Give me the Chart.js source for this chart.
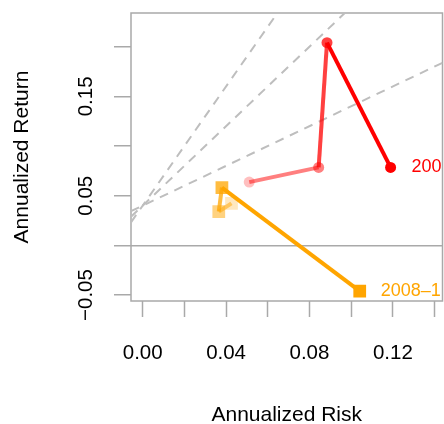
<!DOCTYPE html>
<html>
<head>
<meta charset="utf-8">
<script src="https://cdn.jsdelivr.net/npm/chart.js@4.4.1/dist/chart.umd.min.js"></script>
<style>
html, body { margin: 0; padding: 0; background: #fff; }
</style>
</head>
<body>
<canvas id="chart1" width="444" height="424"></canvas>
<script>
// trail values (oldest point first)
var redRisk = [0.0511, 0.0844, 0.0884, 0.1189];
var redReturn = [0.0637, 0.0785, 0.2040, 0.0785];
var orangeRisk = [0.0426, 0.0365, 0.0380, 0.1041];
var orangeReturn = [0.0423, 0.0340, 0.0582, -0.0460];
var trailAlpha = [0.25, 0.5, 0.75, 1];
var seriesLabels = ['200', '2008\u20131'];

// sharpe ratio reference lines
var sharpeSlopes = [1, 2, 3];
var sharpeIntercept = 0.04;

var xTickValues = [0, 0.04, 0.08, 0.12];
var xTickLabels = ['0.00', '0.04', '0.08', '0.12'];
var yTickValues = [-0.05, 0.05, 0.15];
var yTickLabels = ['\u22120.05', '0.05', '0.15'];

var xMin = -0.0056, xMax = 0.1438;
var yMin = -0.056, yMax = 0.2339;
var axisGray = '#A9A9A9';
var fontFamily = '"Liberation Sans", Arial, sans-serif';

function trail(risk, ret, rgb, style, radius) {
    return {
        data: risk.map(function (x, i) { return { x: x, y: ret[i] }; }),
        showLine: true,
        borderWidth: 4,
        borderColor: 'rgb(' + rgb + ')',
        segment: {
            borderColor: function (c) { return 'rgba(' + rgb + ',' + trailAlpha[c.p1DataIndex] + ')'; }
        },
        pointStyle: style,
        pointRadius: radius,
        pointHoverRadius: radius,
        pointBorderWidth: 0,
        pointBackgroundColor: trailAlpha.map(function (a) { return 'rgba(' + rgb + ',' + a + ')'; })
    };
}

var datasets = [
    trail(redRisk, redReturn, '255,0,0', 'circle', 5.5),
    trail(orangeRisk, orangeReturn, '255,165,0', 'rect', 9)
];
sharpeSlopes.forEach(function (s) {
    var x2 = 0.3;
    datasets.push({
        data: [{ x: xMin, y: sharpeIntercept + s * xMin }, { x: x2, y: sharpeIntercept + s * x2 }],
        showLine: true,
        borderColor: '#BEBEBE',
        borderWidth: 2,
        borderDash: [9, 7],
        pointRadius: 0,
        clip: 0
    });
});

var extras = {
    id: 'extras',
    beforeDatasetsDraw: function (chart) {
        var c = chart.ctx, a = chart.chartArea;
        c.save();
        c.strokeStyle = axisGray;
        c.lineWidth = 1.5;
        c.strokeRect(a.left, a.top, a.right - a.left, a.bottom - a.top);
        c.restore();
    },
    afterDatasetsDraw: function (chart) {
        var c = chart.ctx;
        c.save();
        c.font = '18px ' + fontFamily;
        c.textAlign = 'left';
        c.textBaseline = 'middle';
        ['#FF0000', '#FFA500'].forEach(function (col, i) {
            var pts = chart.getDatasetMeta(i).data;
            var p = pts[pts.length - 1];
            c.fillStyle = col;
            c.fillText(seriesLabels[i], p.x + 21, p.y);
        });
        // rotated y tick labels, R style
        var ys = chart.scales.y;
        c.font = '20.5px ' + fontFamily;
        c.fillStyle = '#000';
        c.textAlign = 'center';
        yTickValues.forEach(function (v, i) {
            c.save();
            c.translate(86, ys.getPixelForValue(v));
            c.rotate(-Math.PI / 2);
            c.fillText(yTickLabels[i], 0, 0);
            c.restore();
        });
        c.restore();
    }
};

var ctx1 = document.getElementById('chart1').getContext('2d');
var chart1 = new Chart(ctx1, {
    type: 'scatter',
    data: { datasets: datasets },
    options: {
        responsive: false,
        animation: false,
        layout: { autoPadding: false, padding: { top: 13, right: 1.5 } },
        plugins: { legend: { display: false }, tooltip: { enabled: false } },
        scales: {
            x: {
                type: 'linear',
                min: xMin,
                max: xMax,
                border: { display: false },
                grid: { drawOnChartArea: false, tickLength: 16, tickColor: axisGray, tickWidth: 1.5 },
                ticks: {
                    stepSize: 0.02,
                    includeBounds: false,
                    autoSkip: false,
                    maxRotation: 0,
                    padding: 24,
                    color: '#000',
                    font: { family: fontFamily, size: 20.5 },
                    callback: function (v) {
                        for (var i = 0; i < xTickValues.length; i++) {
                            if (Math.abs(v - xTickValues[i]) < 1e-9) return xTickLabels[i];
                        }
                        return '';
                    }
                },
                title: {
                    display: true,
                    text: 'Annualized Risk',
                    color: '#000',
                    font: { family: fontFamily, size: 21, lineHeight: 0.8 },
                    padding: 0
                },
                afterFit: function (s) {
                    s.height = 123;
                    s.paddingLeft = 0;
                    s.paddingRight = 0;
                }
            },
            y: {
                type: 'linear',
                min: yMin,
                max: yMax,
                border: { display: false },
                grid: {
                    drawOnChartArea: true,
                    tickLength: 17,
                    tickColor: axisGray,
                    tickWidth: 1.5,
                    lineWidth: 1.5,
                    color: function (c) {
                        return c.tick && Math.abs(c.tick.value) < 1e-9 ? axisGray : 'rgba(0,0,0,0)';
                    }
                },
                ticks: { stepSize: 0.05, includeBounds: false, display: false },
                title: {
                    display: true,
                    text: 'Annualized Return',
                    color: '#000',
                    font: { family: fontFamily, size: 21 },
                    padding: { top: 10 }
                },
                afterFit: function (s) {
                    s.width = 131;
                    s.paddingTop = 0;
                    s.paddingBottom = 0;
                }
            }
        }
    },
    plugins: [extras]
});
</script>
</body>
</html>
